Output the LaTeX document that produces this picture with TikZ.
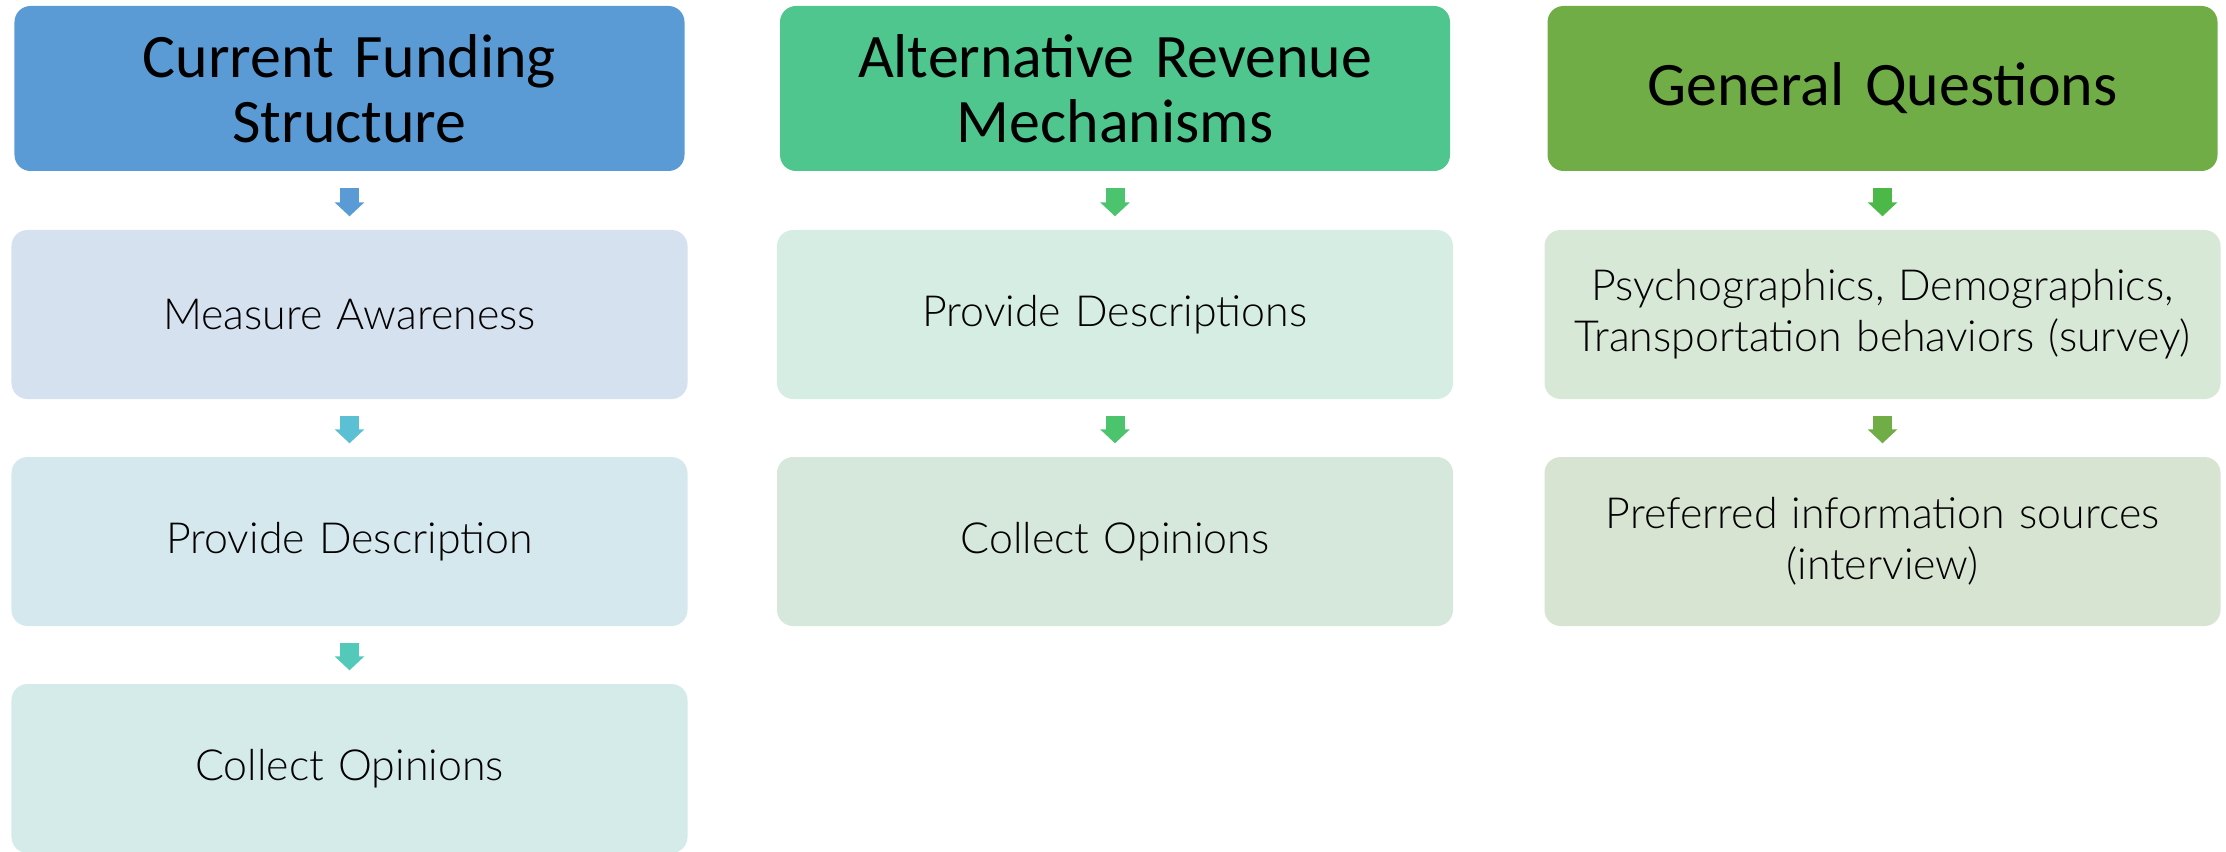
\documentclass[tikz,border=0pt]{standalone}
\usepackage{fontspec}
\setmainfont{Carlito}
\newfontfamily\bodyfont{Lato Light}
\usetikzlibrary{arrows.meta}

\definecolor{headblue}{RGB}{91,155,213}
\definecolor{headmint}{RGB}{78,198,142}
\definecolor{headgreen}{RGB}{112,173,71}
\definecolor{arrteal}{RGB}{91,192,212}
\definecolor{arraqua}{RGB}{83,201,185}
\definecolor{arrmint}{RGB}{76,196,110}
\definecolor{arrgreen}{RGB}{76,184,72}
\definecolor{fillblue}{RGB}{214,225,239}
\definecolor{fillteal}{RGB}{213,232,238}
\definecolor{fillaqua}{RGB}{212,235,234}
\definecolor{fillmint}{RGB}{214,237,228}
\definecolor{fillmintb}{RGB}{214,232,219}
\definecolor{fillsage}{RGB}{215,232,214}
\definecolor{fillsageb}{RGB}{216,228,210}

\tikzset{
  headbox/.style={rectangle, rounded corners=0.16cm, minimum width=6.70cm,
    minimum height=1.65cm, text width=6.0cm, align=center,
    font=\fontsize{17.6}{18.5}\selectfont},
  stepbox/.style={rectangle, rounded corners=0.16cm, minimum width=6.76cm,
    minimum height=1.69cm, text width=6.3cm, align=center,
    font=\bodyfont\fontsize{12.2}{14.5}\selectfont},
  flow/.style={line width=0.19cm, -{Triangle[width=0.29cm,length=0.14cm]},
    shorten <=0.16cm, shorten >=0.13cm}
}

\begin{document}
\begin{tikzpicture}
    \useasboundingbox (0,0) rectangle (22.26,8.51);
    \clip (0,0) rectangle (22.26,8.51);

    % Current funding structure
    \node[headbox, fill=headblue] (cfs) at (3.495,7.625) {Current Funding\\Structure};
    \node[stepbox, fill=fillblue] (aware) at (3.495,5.365) {Measure Awareness};
    \node[stepbox, fill=fillteal] (descr) at (3.495,3.095) {Provide Description};
    \node[stepbox, fill=fillaqua] (opin) at (3.495,0.825) {Collect Opinions};
    \draw[flow, headblue] (cfs) -- (aware);
    \draw[flow, arrteal] (aware) -- (descr);
    \draw[flow, arraqua] (descr) -- (opin);

    % Alternative revenue mechanisms
    \node[headbox, fill=headmint] (arm) at (11.15,7.625) {Alternative Revenue\\Mechanisms};
    \node[stepbox, fill=fillmint] (descrs) at (11.15,5.365) {Provide Descriptions};
    \node[stepbox, fill=fillmintb] (opins) at (11.15,3.095) {Collect Opinions};
    \draw[flow, arrmint] (arm) -- (descrs);
    \draw[flow, arrmint] (descrs) -- (opins);

    % General questions
    \node[headbox, fill=headgreen] (gq) at (18.825,7.625) {General Questions};
    \node[stepbox, fill=fillsage] (psych) at (18.825,5.365) {Psychographics, Demographics,\\Transportation behaviors (survey)};
    \node[stepbox, fill=fillsageb] (pref) at (18.825,3.095) {Preferred information sources\\(interview)};
    \draw[flow, arrgreen] (gq) -- (psych);
    \draw[flow, headgreen] (psych) -- (pref);
\end{tikzpicture}
\end{document}
